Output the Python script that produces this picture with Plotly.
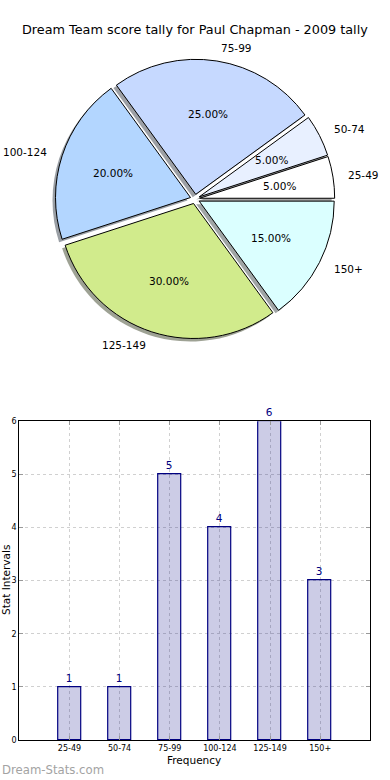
import math
import plotly.graph_objects as go

# ---- data ----
categories = ["25-49", "50-74", "75-99", "100-124", "125-149", "150+"]
counts = [1, 1, 5, 4, 6, 3]
pie_colors = ["#ffffff", "#e8f0ff", "#c6d9ff", "#b3d6ff", "#d1eb8c", "#dbffff"]
y_ticks = [0, 1, 2, 3, 4, 5, 6]
title_text = "Dream Team score tally for Paul Chapman - 2009 tally"

W, H = 390, 780
FONT = "DejaVu Sans"

# ---- pie geometry (pixels) ----
cx, cy = 195.0, 199.0
pull = 0.035
r = 135.0
half = r * (1 + pull)
dom_x = [(cx - half) / W, (cx + half) / W]
dom_y = [1 - (cy + half) / H, 1 - (cy - half) / H]

total = sum(counts)
# plotly counterclockwise: first slice ends at `rotation`; make it start at 3 o'clock
rotation = 90 - counts[0] / total * 360

def shadow_color(hexc):
    hexc = hexc.lstrip("#")
    rr, gg, bb = (int(hexc[i:i + 2], 16) for i in (0, 2, 4))
    return f"rgba({int(rr*0.3)},{int(gg*0.3)},{int(bb*0.3)},0.5)"

fig = go.Figure()

# shadow pie
sdx, sdy = -3.0, 3.0
fig.add_trace(go.Pie(
    labels=categories, values=counts, sort=False, direction="counterclockwise",
    rotation=rotation, pull=[pull] * len(counts),
    marker=dict(colors=[shadow_color(c) for c in pie_colors], line=dict(width=0)),
    textinfo="none", hoverinfo="skip", showlegend=False,
    domain=dict(x=[dom_x[0] + sdx / W, dom_x[1] + sdx / W],
                y=[dom_y[0] - sdy / H, dom_y[1] - sdy / H]),
))

# main pie
fig.add_trace(go.Pie(
    labels=categories, values=counts, sort=False, direction="counterclockwise",
    rotation=rotation, pull=[pull] * len(counts),
    marker=dict(colors=pie_colors, line=dict(color="#000000", width=1)),
    textinfo="none", showlegend=False,
    domain=dict(x=dom_x, y=dom_y),
))

annotations = []
start = 0.0
for lab, v in zip(categories, counts):
    frac = v / total
    mid = math.radians(start + frac * 360 / 2)
    start += frac * 360
    c, s = math.cos(mid), math.sin(mid)
    # outside label
    lx = cx + (pull + 1.1) * r * c
    ly = cy - (pull + 1.1) * r * s
    annotations.append(dict(
        x=lx / W, y=1 - ly / H, xref="paper", yref="paper", text=lab,
        showarrow=False, xanchor="left" if c > 0 else "right", yanchor="middle",
        font=dict(family=FONT, size=10.5, color="#000000")))
    # percent
    px_ = cx + (pull + 0.6) * r * c
    py_ = cy - (pull + 0.6) * r * s
    annotations.append(dict(
        x=px_ / W, y=1 - py_ / H, xref="paper", yref="paper",
        text=f"{frac*100:.2f}%", showarrow=False, xanchor="center", yanchor="middle",
        font=dict(family=FONT, size=10.5, color="#000000")))

# ---- bar chart ----
fig.add_trace(go.Bar(
    x=categories, y=counts, width=0.46,
    marker=dict(color="rgba(0,0,128,0.2)", line=dict(color="#000080", width=1.2)),
    text=[str(v) for v in counts], textposition="outside", cliponaxis=False,
    textfont=dict(family=FONT, size=10.5, color="#000080"),
    showlegend=False, xaxis="x", yaxis="y", hoverinfo="skip",
))

ax_x = [19.3 / W, 370.3 / W]
ax_y = [1 - 740 / H, 1 - 421.3 / H]

annotations += [
    dict(x=0.5, y=1 - 30 / H, xref="paper", yref="paper", text=title_text,
         showarrow=False, xanchor="center", yanchor="middle",
         font=dict(family=FONT, size=12.8, color="#000000")),
    dict(x=194 / W, y=1 - 760 / H, xref="paper", yref="paper", text="Frequency",
         showarrow=False, xanchor="center", yanchor="middle",
         font=dict(family=FONT, size=10.5, color="#000000")),
    dict(x=6 / W, y=1 - 580 / H, xref="paper", yref="paper", text="Stat Intervals",
         showarrow=False, xanchor="center", yanchor="middle", textangle=-90,
         font=dict(family=FONT, size=10.5, color="#000000")),
    dict(x=0, y=1 - 770 / H, xref="paper", yref="paper", text="Dream-Stats.com",
         showarrow=False, xanchor="left", yanchor="middle",
         font=dict(family=FONT, size=11.7, color="#a3a3a3")),
]

fig.update_layout(
    width=W, height=H, autosize=False,
    margin=dict(l=0, r=0, t=0, b=0, pad=0, autoexpand=False),
    paper_bgcolor="#ffffff", plot_bgcolor="#ffffff",
    annotations=annotations,
    bargap=0,
    xaxis=dict(
        domain=ax_x, anchor="y", type="category", range=[-1, 6],
        categoryorder="array", categoryarray=categories,
        showline=True, linecolor="#000000", linewidth=1, mirror="ticks",
        ticks="inside", ticklen=4, tickcolor="#999999",
        showgrid=True, gridcolor="#d0d0d0", griddash="dot", gridwidth=1,
        tickfont=dict(family=FONT, size=8, color="#000000"),
        zeroline=False, automargin=False,
    ),
    yaxis=dict(
        domain=ax_y, anchor="x", range=[0, 6], tickvals=y_ticks,
        showline=True, linecolor="#000000", linewidth=1, mirror="ticks",
        ticks="inside", ticklen=4, tickcolor="#999999",
        showgrid=True, gridcolor="#d0d0d0", griddash="dot", gridwidth=1,
        tickfont=dict(family=FONT, size=8, color="#000000"),
        zeroline=False, automargin=False,
    ),
)

fig.write_html("out.html", config={"displayModeBar": False},
               post_script="document.body.style.margin='0';")
